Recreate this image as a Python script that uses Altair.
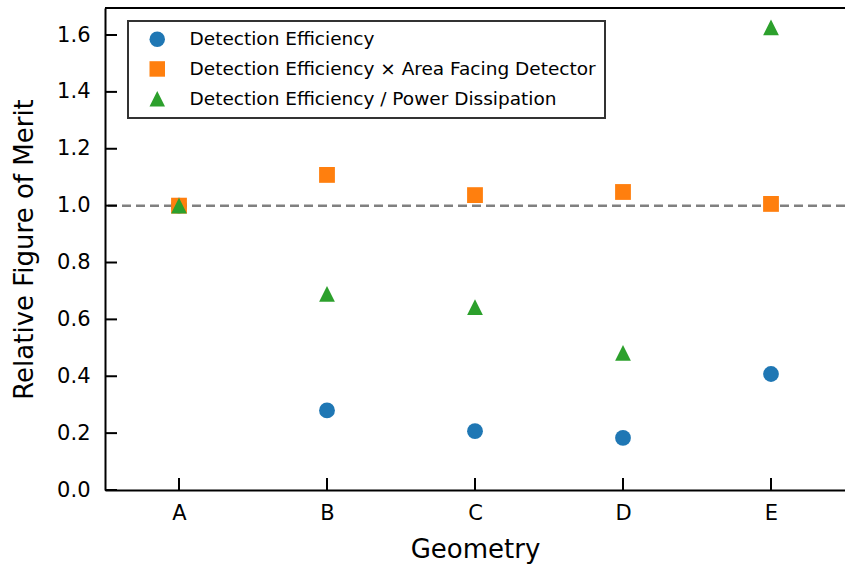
import altair as alt
import pandas as pd

# Geometries compared
geometries = ["A", "B", "C", "D", "E"]

# Relative figures of merit per geometry (normalised to geometry A)
det_eff = [1.00, 0.28, 0.207, 0.183, 0.408]
det_eff_area = [1.00, 1.108, 1.037, 1.048, 1.006]
det_eff_power = [1.00, 0.69, 0.643, 0.482, 1.627]

series_names = [
    "Detection Efficiency",
    "Detection Efficiency \u00d7 Area Facing Detector",
    "Detection Efficiency / Power Dissipation",
]
series_colors = ["#1f77b4", "#ff7f0e", "#2ca02c"]
series_shapes = ["circle", "square", "M0,-1L1,1L-1,1Z"]

y_ticks = [0.0, 0.2, 0.4, 0.6, 0.8, 1.0, 1.2, 1.4, 1.6]
reference_level = 1.0

W, H = 740, 482
TICK_LEN = 12
FONT = "DejaVu Sans"

rows = []
for name, vals in zip(series_names, [det_eff, det_eff_area, det_eff_power]):
    for g, v in zip(geometries, vals):
        rows.append({"geometry": g, "series": name, "value": v})
df = pd.DataFrame(rows)

x_scale = alt.Scale(type="point", domain=geometries, padding=0.5)
y_scale = alt.Scale(domain=[0, 1.695], nice=False, zero=False)

x_enc = alt.X(
    "geometry:N",
    scale=x_scale,
    axis=alt.Axis(
        title="Geometry",
        labelAngle=0,
        ticks=False,
        tickSize=0,
        labelPadding=12,
        titlePadding=13,
    ),
)
y_enc = alt.Y(
    "value:Q",
    scale=y_scale,
    axis=alt.Axis(
        title="Relative Figure of Merit",
        values=y_ticks,
        format=".1f",
        ticks=False,
        tickSize=0,
        labelPadding=15,
        titlePadding=19,
    ),
)

# Dashed reference line at 1.0
ref_line = alt.Chart(pd.DataFrame({"v": [reference_level]})).mark_rule(
    color="#808080", strokeWidth=2.5, strokeDash=[9, 5]
).encode(y=alt.Y("v:Q", scale=y_scale))

points = alt.Chart(df).mark_point(filled=True, opacity=1, size=250).encode(
    x=x_enc,
    y=y_enc,
    color=alt.Color(
        "series:N",
        scale=alt.Scale(domain=series_names, range=series_colors),
        legend=alt.Legend(
            title=None,
            orient="none",
            legendX=23,
            legendY=13,
        ),
    ),
    shape=alt.Shape(
        "series:N",
        scale=alt.Scale(domain=series_names, range=series_shapes),
    ),
)

# Inward-pointing ticks
y_tick_marks = alt.Chart(pd.DataFrame({"t": y_ticks})).mark_rule(
    color="black", strokeWidth=2
).encode(
    y=alt.Y("t:Q", scale=y_scale),
    x=alt.value(0),
    x2=alt.value(TICK_LEN),
)
x_tick_marks = alt.Chart(pd.DataFrame({"g": geometries})).mark_rule(
    color="black", strokeWidth=2
).encode(
    x=alt.X("g:N", scale=x_scale),
    y=alt.value(H - TICK_LEN),
    y2=alt.value(H),
)

# Top spine
top_spine = alt.Chart(pd.DataFrame({"a": [0]})).mark_rule(
    color="black", strokeWidth=2
).encode(x=alt.value(0), x2=alt.value(W + 5), y=alt.value(0))

chart = (
    alt.layer(ref_line, points, y_tick_marks, x_tick_marks, top_spine)
    .properties(
        width=W,
        height=H,
        autosize=alt.AutoSizeParams(type="none"),
        padding={"left": 105, "top": 8, "right": 0, "bottom": 76},
    )
    .configure_view(stroke=None)
    .configure(font=FONT)
    .configure_axis(
        domainColor="black",
        domainWidth=2,
        grid=False,
        labelFontSize=21,
        labelColor="black",
        labelFont=FONT,
        titleFontSize=26,
        titleFontWeight="normal",
        titleColor="black",
        titleFont=FONT,
    )
    .configure_legend(
        labelFontSize=18.5,
        labelFont=FONT,
        labelColor="black",
        strokeColor="#333333",
        strokeWidth=2,
        fillColor="white",
        cornerRadius=0,
        padding=9,
        symbolOffset=11,
        symbolSize=240,
        symbolStrokeWidth=0,
        labelOffset=23,
        rowPadding=10.7,
        labelLimit=600,
    )
)

chart.save("out.html", embed_options={"renderer": "svg", "actions": False})
